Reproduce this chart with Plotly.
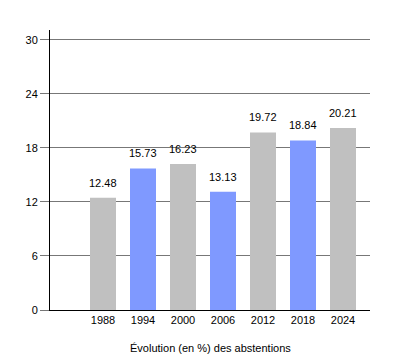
import plotly.graph_objects as go

years = ["1988", "1994", "2000", "2006", "2012", "2018", "2024"]
values = [12.48, 15.73, 16.23, 13.13, 19.72, 18.84, 20.21]
colors = ["#c0c0c0", "#7f99ff", "#c0c0c0", "#7f99ff", "#c0c0c0", "#7f99ff", "#c0c0c0"]
y_ticks = [0, 6, 12, 18, 24, 30]
title = "Évolution (en %) des abstentions"

font = "Liberation Sans, Arial, sans-serif"

fig = go.Figure(go.Bar(
    x=years, y=values, marker=dict(color=colors, line=dict(width=0)),
    width=0.65, hoverinfo="x+y",
))

annotations = [
    dict(x=i, y=v, xref="x", yref="y", text=f"{v:.2f}", showarrow=False,
         yanchor="bottom", yshift=7, font=dict(size=11, family=font, color="#000"))
    for i, v in enumerate(values)
]
annotations.append(dict(text=title, x=0.5, xref="paper", y=-0.136, yref="paper",
                        xanchor="center", yanchor="middle", showarrow=False,
                        font=dict(size=11, family=font, color="#000")))

fig.update_layout(
    width=400, height=360,
    margin=dict(l=42, r=38, t=22, b=58),
    plot_bgcolor="white", paper_bgcolor="white",
    showlegend=False,
    font=dict(family=font, size=11, color="#000"),
    xaxis=dict(type="category", range=[-1.325, 6.675], showgrid=False,
               showline=True, linecolor="#000", linewidth=1, ticks="",
               tickfont=dict(size=11), fixedrange=True),
    yaxis=dict(range=[0, 31.1], tickvals=y_ticks, showgrid=True,
               gridcolor="#777", gridwidth=1, showline=True, linecolor="#000",
               linewidth=1, ticks="outside", ticklen=9, tickcolor="#777",
               tickfont=dict(size=11), zeroline=False, fixedrange=True),
    annotations=annotations,
)

fig.write_html("out.html")
